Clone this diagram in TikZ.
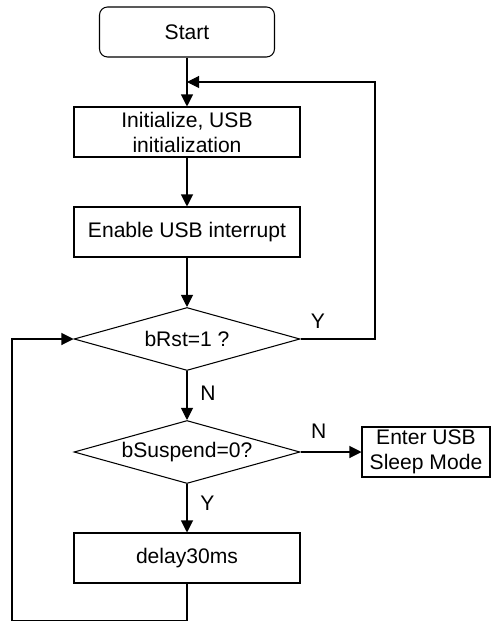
\documentclass[tikz,border=0pt]{standalone}
\usepackage{fontspec}
\setmainfont{Liberation Sans}
\usepackage{tikz}
\usetikzlibrary{shapes.geometric, arrows.meta, positioning, calc}

\begin{document}
\begin{tikzpicture}[x=0.02cm, y=-0.02cm,
  every node/.style={font=\fontsize{12pt}{14.2pt}\selectfont, align=center},
  line/.style={line width=0.6pt},
  arr/.style={line width=0.6pt, -{Triangle[length=0.24cm,width=0.24cm]}},
  proc/.style={draw, line width=0.6pt, minimum width=4.52cm, minimum height=1cm, inner sep=0pt},
  term/.style={proc, rounded corners=0.16cm, minimum width=3.5cm},
  decide/.style={draw, line width=0.6pt, diamond, aspect=3.6, inner sep=0pt,
    minimum width=4.52cm, minimum height=1.26cm}]
  % page size of the reference
  \useasboundingbox (0,0) rectangle (497,621);

  % Boxes down the main column
  \node[term]   (start)  at (187,32)  {Start};
  \node[proc]   (init)   at (187,132) {Initialize, USB\\initialization};
  \node[proc]   (enable) at (187,232) {Enable USB interrupt};
  \node[decide] (rst)    at (187,339) {bRst=1 ?};
  \node[decide] (susp)   at (187,452) {bSuspend=0?};
  \node[proc, minimum width=2.56cm] (sleep) at (426,452) {Enter USB\\Sleep Mode};
  \node[proc]   (delay)  at (187,558) {delay30ms};

  % Helper points for the two loops
  \coordinate (join)  at (187,82);
  \coordinate (rtop)  at (375,82);
  \coordinate (rbot)  at (375,339);
  \coordinate (dbot)  at (187,621);
  \coordinate (lbot)  at (12,621);
  \coordinate (ltop)  at (12,339);

  % Main flow
  \draw[arr] (start) -- (init);
  \draw[arr] (init) -- (enable);
  \draw[arr] (enable) -- (rst);
  \draw[arr] (rst) -- (susp) node[pos=0.45,right=4pt] {N};
  \draw[arr] (susp.east) -- (sleep.west) node[pos=0.3,above=4pt] {N};
  \draw[arr] (susp) -- (delay) node[pos=0.4,right=4pt] {Y};

  % Reset loop back to initialization
  \draw[arr] (rst.east) -- (rbot) -- (rtop) -- (join);
  \node at (318,321) {Y};

  % Loop back to the reset check (bottom edge is cut by the page)
  \draw[arr] (delay) -- (dbot) -- (lbot) -- (ltop) -- (rst.west);
\end{tikzpicture}
\end{document}
